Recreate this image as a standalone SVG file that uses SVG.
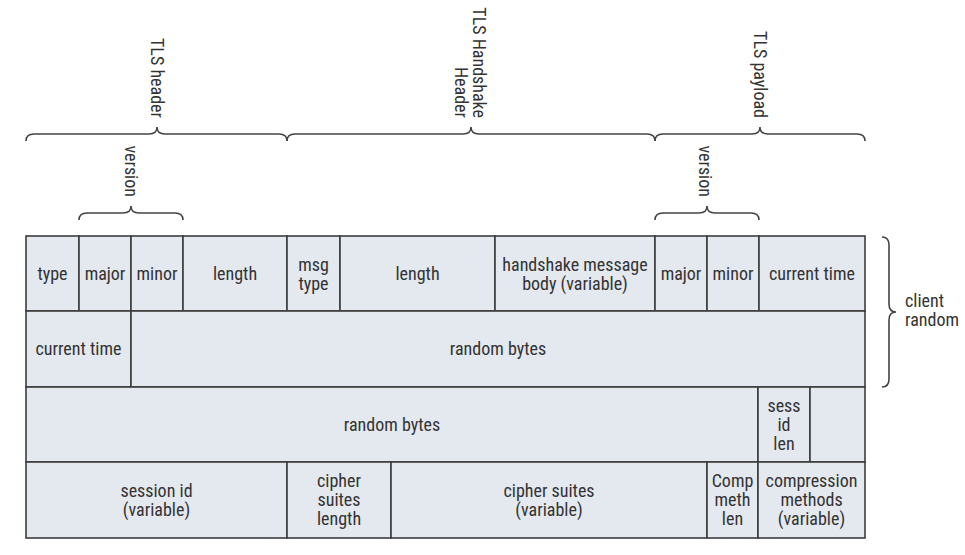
<svg xmlns="http://www.w3.org/2000/svg" width="965" height="555" viewBox="0 0 965 555">
<style>
.c{fill:#e4e8ef;stroke:#3c3c3c;stroke-width:1.6}
.t{font-family:"Liberation Sans Narrow","Roboto Condensed","DejaVu Sans Condensed",sans-serif;font-size:18px;fill:#333;text-anchor:middle}
.l{font-family:"Liberation Sans Narrow","Roboto Condensed","DejaVu Sans Condensed",sans-serif;font-size:18px;fill:#333}
.b{fill:none;stroke:#444;stroke-width:1.6}
</style>
<rect width="965" height="555" fill="#fff"/>
<g id="braces">
<path class="b" d="M26,141 Q26,134 34,134 L149,134 Q157,134 157,127 Q157,134 165,134 L279,134 Q287,134 287,141"/>
<path class="b" d="M287,141 Q287,134 295,134 L463,134 Q471,134 471,127 Q471,134 479,134 L647,134 Q655,134 655,141"/>
<path class="b" d="M655,141 Q655,134 663,134 L752,134 Q760,134 760,127 Q760,134 768,134 L857,134 Q865,134 865,141"/>
<path class="b" d="M79,220 Q79,213 87,213 L123,213 Q131,213 131,206 Q131,213 139,213 L175,213 Q183,213 183,220"/>
<path class="b" d="M655,220 Q655,213 663,213 L699,213 Q707,213 707,206 Q707,213 715,213 L751,213 Q759,213 759,220"/>
<path class="b" d="M882,237 Q889,237 889,245 L889,304 Q889,312 896,312 Q889,312 889,320 L889,379 Q889,387 882,387"/>
</g>
<g id="labels">
<text class="l" text-anchor="end" transform="translate(151,118) rotate(90)">TLS header</text>
<text class="l" text-anchor="end" transform="translate(473,118) rotate(90)">TLS Handshake</text>
<text class="l" text-anchor="end" transform="translate(455,118) rotate(90)">Header</text>
<text class="l" text-anchor="end" transform="translate(754,118) rotate(90)">TLS payload</text>
<text class="l" text-anchor="end" transform="translate(125,197) rotate(90)">version</text>
<text class="l" text-anchor="end" transform="translate(699,197) rotate(90)">version</text>
<text class="l" x="905" y="307">client</text>
<text class="l" x="905" y="326">random</text>
</g>
<g id="row1">
<g id="type"><rect class="c" x="26" y="236" width="53" height="75"/><text class="t" x="52.5" y="279.5">type</text></g>
<g id="major1"><rect class="c" x="79" y="236" width="52" height="75"/><text class="t" x="105" y="279.5">major</text></g>
<g id="minor1"><rect class="c" x="131" y="236" width="52" height="75"/><text class="t" x="157" y="279.5">minor</text></g>
<g id="length1"><rect class="c" x="183" y="236" width="104" height="75"/><text class="t" x="235" y="279.5">length</text></g>
<g id="msgtype"><rect class="c" x="287" y="236" width="53" height="75"/><text class="t" x="313.5" y="270.5">msg</text><text class="t" x="313.5" y="289.5">type</text></g>
<g id="length2"><rect class="c" x="340" y="236" width="155" height="75"/><text class="t" x="417.5" y="279.5">length</text></g>
<g id="hsbody"><rect class="c" x="495" y="236" width="160" height="75"/><text class="t" x="575" y="270.5">handshake message</text><text class="t" x="575" y="289.5">body (variable)</text></g>
<g id="major2"><rect class="c" x="655" y="236" width="52" height="75"/><text class="t" x="681" y="279.5">major</text></g>
<g id="minor2"><rect class="c" x="707" y="236" width="52" height="75"/><text class="t" x="733" y="279.5">minor</text></g>
<g id="curtime1"><rect class="c" x="759" y="236" width="106" height="75"/><text class="t" x="812" y="279.5">current time</text></g>
</g>
<g id="row2">
<g id="curtime2"><rect class="c" x="26" y="311" width="105" height="76"/><text class="t" x="78.5" y="355">current time</text></g>
<g id="random1"><rect class="c" x="131" y="311" width="734" height="76"/><text class="t" x="498" y="355">random bytes</text></g>
</g>
<g id="row3">
<g id="random2"><rect class="c" x="26" y="387" width="732" height="75"/><text class="t" x="392" y="430.5">random bytes</text></g>
<g id="sessidlen"><rect class="c" x="758" y="387" width="52" height="75"/><text class="t" x="784" y="411.5">sess</text><text class="t" x="784" y="430.5">id</text><text class="t" x="784" y="449.5">len</text></g>
<g id="blank"><rect class="c" x="810" y="387" width="55" height="75"/></g>
</g>
<g id="row4">
<g id="sessid"><rect class="c" x="26" y="462" width="261" height="76"/><text class="t" x="156.5" y="497">session id</text><text class="t" x="156.5" y="516">(variable)</text></g>
<g id="cslen"><rect class="c" x="287" y="462" width="104" height="76"/><text class="t" x="339" y="487">cipher</text><text class="t" x="339" y="506">suites</text><text class="t" x="339" y="525">length</text></g>
<g id="cs"><rect class="c" x="391" y="462" width="316" height="76"/><text class="t" x="549" y="497">cipher suites</text><text class="t" x="549" y="516">(variable)</text></g>
<g id="cmlen"><rect class="c" x="707" y="462" width="51" height="76"/><text class="t" x="732.5" y="487">Comp</text><text class="t" x="732.5" y="506">meth</text><text class="t" x="732.5" y="525">len</text></g>
<g id="cm"><rect class="c" x="758" y="462" width="107" height="76"/><text class="t" x="811.5" y="487">compression</text><text class="t" x="811.5" y="506">methods</text><text class="t" x="811.5" y="525">(variable)</text></g>
</g>
</svg>
